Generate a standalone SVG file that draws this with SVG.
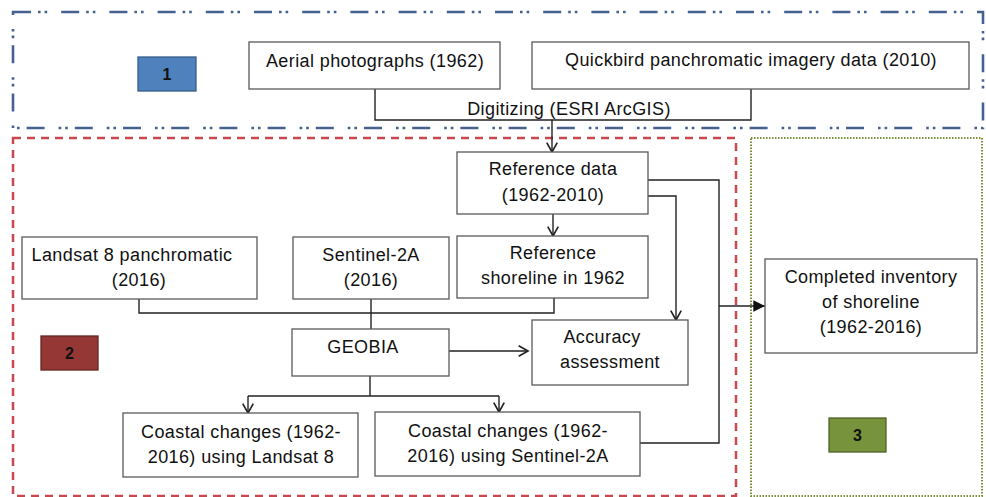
<svg xmlns="http://www.w3.org/2000/svg" width="986" height="497" viewBox="0 0 986 497">
<defs>
<style>
.box{fill:#fff;stroke:#595959;stroke-width:1.3}
.t{font-family:"Liberation Sans",Arial,sans-serif;font-size:18px;letter-spacing:0.4px;fill:#111;text-anchor:middle}
.n{font-family:"Liberation Sans",Arial,sans-serif;font-size:16px;font-weight:bold;fill:#111;text-anchor:middle}
.c{fill:none;stroke:#222;stroke-width:1.4}
</style>
<marker id="open" markerUnits="userSpaceOnUse" markerWidth="14" markerHeight="14" viewBox="-10 -6 12 12" refX="0" refY="0" orient="auto">
<path d="M-8,-4.5 L0,0 L-8,4.5" fill="none" stroke="#222" stroke-width="1.4"/>
</marker>
<marker id="solid" markerUnits="userSpaceOnUse" markerWidth="14" markerHeight="14" viewBox="-10 -6 12 12" refX="0" refY="0" orient="auto">
<path d="M-10,-5 L0,0 L-10,5 Z" fill="#111"/>
</marker>
</defs>
<rect width="986" height="497" fill="#fff"/>
<g id="regions">
<rect x="13" y="12" width="970" height="116" fill="none" stroke="#44618f" stroke-width="2.6" stroke-dasharray="18 7 2.6 4 2.6 14"/>
<rect x="13" y="138" width="723" height="358" fill="none" stroke="#c9474f" stroke-width="2.5" stroke-dasharray="8 6"/>
<rect x="751" y="138" width="231" height="358" fill="none" stroke="#7a8f3a" stroke-width="2" stroke-dasharray="1.5 1.5"/>
</g>
<g id="connectors">
<polyline class="c" points="375,89 375,120 751,120 751,89"/>
<line class="c" x1="552" y1="120" x2="552" y2="152" marker-end="url(#open)"/>
<line class="c" x1="553" y1="214" x2="553" y2="236" marker-end="url(#open)"/>
<polyline class="c" points="648,180 719,180 719,443 640,443"/>
<polyline class="c" points="648,196 676,196 676,320" marker-end="url(#open)"/>
<polyline class="c" points="139,299 139,313 554,313 554,298"/>
<line class="c" x1="371" y1="299" x2="371" y2="329"/>
<line class="c" x1="449" y1="351" x2="528" y2="351" marker-end="url(#open)"/>
<line class="c" x1="370" y1="376" x2="370" y2="396"/>
<line class="c" x1="248" y1="396" x2="499" y2="396"/>
<line class="c" x1="248" y1="396" x2="248" y2="413" marker-end="url(#open)"/>
<line class="c" x1="499" y1="396" x2="499" y2="412" marker-end="url(#open)"/>
<line class="c" x1="719" y1="306" x2="765" y2="306" marker-end="url(#solid)"/>
</g>
<g id="label1"><rect x="138" y="57" width="58" height="34" fill="#4f81bd" stroke="#385d8a" stroke-width="1.3"/><text class="n" x="167" y="80">1</text></g>
<g id="label2"><rect x="41" y="336" width="57" height="34" fill="#953735" stroke="#632523" stroke-width="1.3"/><text class="n" x="69.5" y="359">2</text></g>
<g id="label3"><rect x="829" y="418" width="57" height="34" fill="#77933c" stroke="#4f6228" stroke-width="1.3"/><text class="n" x="857.5" y="441">3</text></g>
<g id="aerial"><rect class="box" x="249" y="42" width="251" height="47"/><text class="t" x="375" y="67">Aerial photographs (1962)</text></g>
<g id="quickbird"><rect class="box" x="532" y="42" width="437" height="47"/><text class="t" x="751" y="66">Quickbird panchromatic imagery data (2010)</text></g>
<g id="digitizing"><text class="t" x="569" y="115">Digitizing (ESRI ArcGIS)</text></g>
<g id="refdata"><rect class="box" x="457" y="152" width="191" height="62"/><text class="t" x="553" y="175">Reference data</text><text class="t" x="553" y="201">(1962-2010)</text></g>
<g id="refshore"><rect class="box" x="457" y="236" width="191" height="62"/><text class="t" x="553" y="259">Reference</text><text class="t" x="553" y="284">shoreline in 1962</text></g>
<g id="landsat"><rect class="box" x="22" y="237" width="235" height="62"/><text class="t" x="132" y="261">Landsat 8 panchromatic</text><text class="t" x="139" y="286">(2016)</text></g>
<g id="sentinel"><rect class="box" x="293" y="237" width="156" height="62"/><text class="t" x="371" y="261">Sentinel-2A</text><text class="t" x="371" y="286">(2016)</text></g>
<g id="geobia"><rect class="box" x="292" y="329" width="157" height="47"/><text class="t" x="363" y="353">GEOBIA</text></g>
<g id="accuracy"><rect class="box" x="532" y="320" width="156" height="65"/><text class="t" x="602" y="343">Accuracy</text><text class="t" x="610" y="368">assessment</text></g>
<g id="coastal-landsat"><rect class="box" x="123" y="413" width="235" height="64"/><text class="t" x="241" y="438">Coastal changes (1962-</text><text class="t" x="241" y="463">2016) using Landsat 8</text></g>
<g id="coastal-sentinel"><rect class="box" x="375" y="412" width="265" height="64"/><text class="t" x="508" y="437">Coastal changes (1962-</text><text class="t" x="508" y="462">2016) using Sentinel-2A</text></g>
<g id="inventory"><rect class="box" x="765" y="259" width="212" height="94"/><text class="t" x="871" y="283">Completed inventory</text><text class="t" x="871" y="308">of shoreline</text><text class="t" x="871" y="333">(1962-2016)</text></g>
</svg>
